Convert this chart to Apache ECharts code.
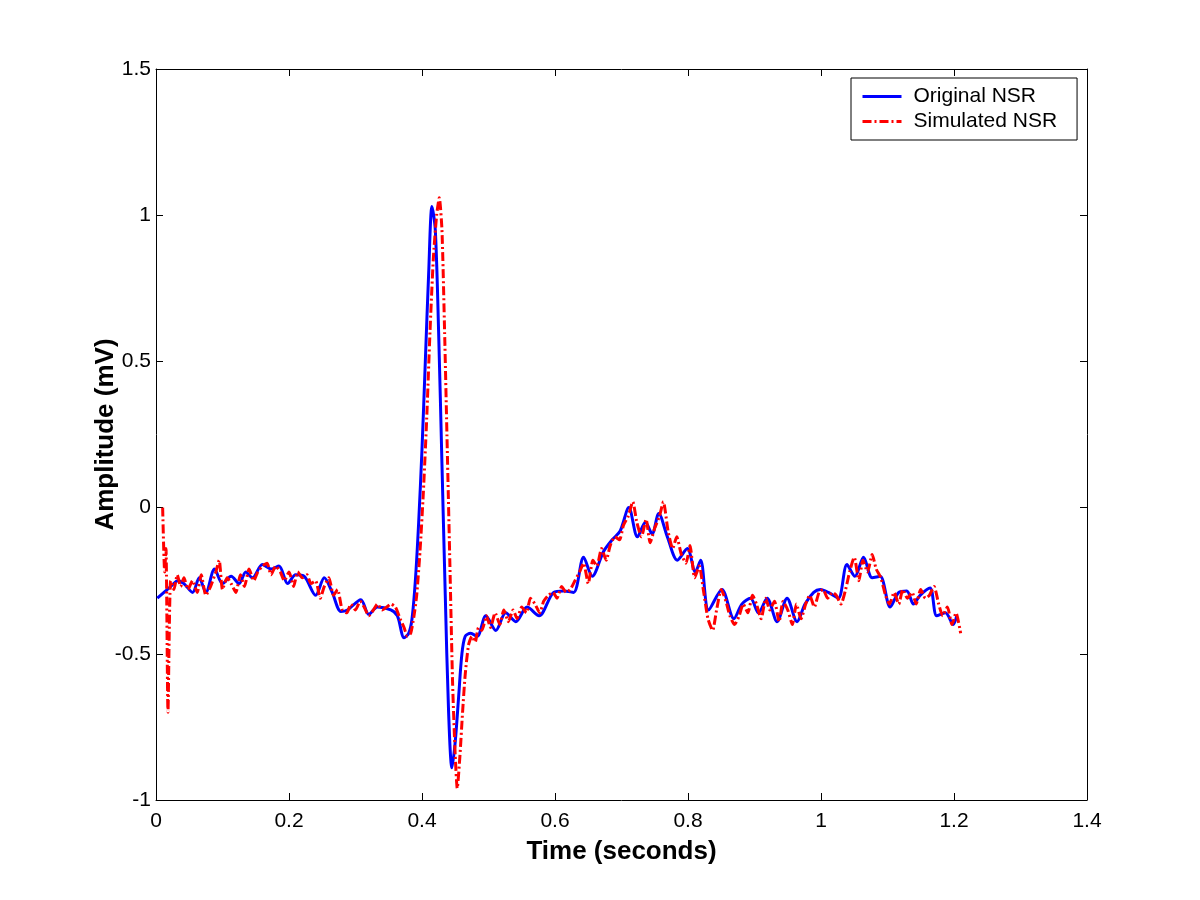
<!DOCTYPE html>
<html>
<head>
<meta charset="utf-8">
<script src="https://cdn.jsdelivr.net/npm/echarts@6/dist/echarts.min.js"></script>
<style>
  html, body { margin: 0; padding: 0; background: #fff; }
  #chart { width: 1200px; height: 900px; }
</style>
</head>
<body>
<div id="chart"></div>
<script>
// original NSR, [time s, amplitude mV]
const originalTime = [0.002, 0.012, 0.022, 0.033, 0.042, 0.055, 0.065, 0.075, 0.088, 0.100, 0.113, 0.125, 0.135, 0.145, 0.160, 0.173, 0.185, 0.198, 0.210, 0.223, 0.240, 0.253, 0.265, 0.278, 0.288, 0.308, 0.320, 0.333, 0.353, 0.363, 0.373, 0.380, 0.385, 0.390, 0.395, 0.400, 0.405, 0.410, 0.415, 0.420, 0.425, 0.430, 0.435, 0.440, 0.445, 0.450, 0.455, 0.460, 0.465, 0.473, 0.483, 0.496, 0.511, 0.526, 0.541, 0.558, 0.576, 0.598, 0.613, 0.628, 0.643, 0.656, 0.673, 0.686, 0.698, 0.711, 0.724, 0.736, 0.746, 0.756, 0.769, 0.784, 0.799, 0.811, 0.819, 0.831, 0.851, 0.869, 0.881, 0.894, 0.906, 0.919, 0.934, 0.949, 0.964, 0.976, 0.989, 0.999, 1.011, 1.026, 1.039, 1.051, 1.064, 1.077, 1.089, 1.104, 1.117, 1.129, 1.139, 1.149, 1.164, 1.174, 1.187, 1.199, 1.204];
const originalValue = [-0.31, -0.29, -0.27, -0.25, -0.26, -0.29, -0.24, -0.29, -0.21, -0.26, -0.235, -0.26, -0.22, -0.24, -0.195, -0.21, -0.20, -0.26, -0.23, -0.235, -0.30, -0.24, -0.29, -0.355, -0.35, -0.315, -0.365, -0.34, -0.35, -0.37, -0.445, -0.43, -0.38, -0.25, -0.05, 0.20, 0.50, 0.80, 1.03, 0.95, 0.60, 0.15, -0.30, -0.70, -0.89, -0.80, -0.65, -0.50, -0.44, -0.43, -0.44, -0.37, -0.42, -0.36, -0.39, -0.34, -0.37, -0.29, -0.285, -0.29, -0.17, -0.235, -0.15, -0.11, -0.08, 0.00, -0.10, -0.05, -0.09, -0.02, -0.10, -0.18, -0.14, -0.22, -0.18, -0.35, -0.28, -0.38, -0.33, -0.31, -0.36, -0.31, -0.39, -0.31, -0.39, -0.33, -0.29, -0.28, -0.29, -0.31, -0.195, -0.235, -0.17, -0.24, -0.235, -0.34, -0.29, -0.285, -0.33, -0.30, -0.275, -0.37, -0.36, -0.40, -0.37];

// simulated NSR
const simulatedTime = [0.010, 0.013, 0.015, 0.018, 0.022, 0.027, 0.032, 0.037, 0.042, 0.048, 0.055, 0.062, 0.068, 0.075, 0.082, 0.090, 0.095, 0.100, 0.107, 0.113, 0.120, 0.127, 0.133, 0.140, 0.147, 0.153, 0.160, 0.167, 0.173, 0.180, 0.187, 0.193, 0.200, 0.207, 0.213, 0.220, 0.227, 0.233, 0.240, 0.247, 0.253, 0.260, 0.267, 0.273, 0.280, 0.287, 0.293, 0.300, 0.307, 0.313, 0.320, 0.327, 0.333, 0.340, 0.347, 0.353, 0.360, 0.367, 0.373, 0.378, 0.383, 0.388, 0.392, 0.397, 0.402, 0.407, 0.412, 0.417, 0.422, 0.426, 0.430, 0.434, 0.438, 0.442, 0.446, 0.450, 0.453, 0.457, 0.461, 0.465, 0.470, 0.475, 0.480, 0.485, 0.490, 0.497, 0.503, 0.510, 0.517, 0.523, 0.530, 0.537, 0.543, 0.550, 0.557, 0.563, 0.570, 0.577, 0.583, 0.590, 0.597, 0.603, 0.610, 0.617, 0.623, 0.630, 0.637, 0.643, 0.650, 0.657, 0.663, 0.670, 0.677, 0.683, 0.690, 0.697, 0.703, 0.710, 0.717, 0.723, 0.730, 0.737, 0.743, 0.750, 0.757, 0.763, 0.770, 0.777, 0.783, 0.790, 0.797, 0.803, 0.810, 0.817, 0.823, 0.830, 0.837, 0.843, 0.850, 0.857, 0.863, 0.870, 0.877, 0.883, 0.890, 0.897, 0.903, 0.910, 0.917, 0.923, 0.930, 0.937, 0.943, 0.950, 0.957, 0.963, 0.970, 0.977, 0.983, 0.990, 0.997, 1.003, 1.010, 1.017, 1.023, 1.030, 1.037, 1.043, 1.050, 1.057, 1.063, 1.070, 1.077, 1.083, 1.090, 1.097, 1.103, 1.110, 1.117, 1.123, 1.130, 1.137, 1.143, 1.150, 1.157, 1.163, 1.170, 1.177, 1.183, 1.190, 1.197, 1.203, 1.210];
const simulatedValue = [0.00, -0.22, -0.14, -0.70, -0.25, -0.28, -0.23, -0.27, -0.24, -0.28, -0.25, -0.29, -0.23, -0.30, -0.27, -0.22, -0.18, -0.28, -0.24, -0.26, -0.29, -0.23, -0.27, -0.21, -0.25, -0.22, -0.20, -0.19, -0.23, -0.20, -0.22, -0.25, -0.22, -0.27, -0.22, -0.24, -0.23, -0.26, -0.25, -0.31, -0.27, -0.24, -0.30, -0.28, -0.35, -0.36, -0.33, -0.35, -0.32, -0.34, -0.37, -0.35, -0.33, -0.35, -0.34, -0.33, -0.34, -0.38, -0.41, -0.44, -0.43, -0.37, -0.30, -0.15, 0.05, 0.30, 0.60, 0.85, 1.00, 1.06, 0.95, 0.60, 0.20, -0.20, -0.60, -0.85, -0.96, -0.85, -0.70, -0.57, -0.47, -0.44, -0.46, -0.41, -0.42, -0.37, -0.41, -0.36, -0.40, -0.35, -0.39, -0.35, -0.38, -0.34, -0.36, -0.31, -0.33, -0.36, -0.32, -0.30, -0.29, -0.31, -0.27, -0.29, -0.28, -0.25, -0.22, -0.19, -0.26, -0.18, -0.20, -0.14, -0.18, -0.13, -0.10, -0.11, -0.06, -0.03, 0.02, -0.05, -0.10, -0.04, -0.12, -0.07, -0.03, 0.02, -0.08, -0.14, -0.10, -0.16, -0.19, -0.13, -0.24, -0.20, -0.28, -0.38, -0.42, -0.35, -0.28, -0.32, -0.37, -0.40, -0.37, -0.33, -0.36, -0.30, -0.33, -0.38, -0.31, -0.35, -0.32, -0.39, -0.32, -0.35, -0.40, -0.33, -0.38, -0.33, -0.30, -0.34, -0.29, -0.28, -0.31, -0.29, -0.30, -0.33, -0.28, -0.22, -0.17, -0.25, -0.18, -0.22, -0.16, -0.21, -0.24, -0.30, -0.33, -0.29, -0.33, -0.28, -0.31, -0.29, -0.33, -0.28, -0.31, -0.30, -0.27, -0.33, -0.37, -0.34, -0.40, -0.36, -0.43];

const seriesNames = ['Original NSR', 'Simulated NSR'];

const zip = (xs, ys) => xs.map((x, i) => [x, ys[i]]);

const chart = echarts.init(document.getElementById('chart'));

const font = 'Liberation Sans, Arial, sans-serif';

// matlab style box: ticks inside on all four sides
const boxAxis = (extra) => Object.assign({
  type: 'value',
  axisLine: { show: true, onZero: false, lineStyle: { color: '#000', width: 1 } },
  axisTick: { show: true, inside: true, length: 7, lineStyle: { color: '#000' } },
  splitLine: { show: false }
}, extra);

const option = {
  backgroundColor: '#fff',
  animation: false,
  textStyle: { fontFamily: font },
  grid: { left: 156, right: 113, top: 69, bottom: 100 },
  legend: {
    orient: 'vertical',
    left: 851,
    top: 78,
    data: seriesNames,
    itemWidth: 39,
    itemHeight: 14,
    itemGap: 4,
    padding: [8, 20, 8, 10],
    backgroundColor: '#fff',
    borderColor: '#000',
    borderWidth: 1,
    borderRadius: 0,
    itemStyle: { opacity: 0 },
    lineStyle: { width: 3 },
    textStyle: { fontFamily: font, fontSize: 21, color: '#000', padding: [0, 0, 0, 7] }
  },
  xAxis: [
    boxAxis({
      min: 0, max: 1.4, interval: 0.2,
      name: 'Time (seconds)',
      nameLocation: 'middle',
      nameGap: 39,
      nameMoveOverlap: false,
      nameTextStyle: { fontFamily: font, fontSize: 26, fontWeight: 'bold', color: '#000' },
      axisLabel: { fontFamily: font, fontSize: 21, color: '#000', margin: 11 }
    }),
    boxAxis({
      min: 0, max: 1.4, interval: 0.2, position: 'top',
      axisLabel: { show: false }
    })
  ],
  yAxis: [
    boxAxis({
      min: -1, max: 1.5, interval: 0.5,
      name: 'Amplitude (mV)',
      nameLocation: 'middle',
      nameGap: 37,
      nameMoveOverlap: false,
      nameRotate: 90,
      nameTextStyle: { fontFamily: font, fontSize: 26, fontWeight: 'bold', color: '#000' },
      axisLabel: { fontFamily: font, fontSize: 21, color: '#000', margin: 5 }
    }),
    boxAxis({
      min: -1, max: 1.5, interval: 0.5, position: 'right',
      axisLabel: { show: false }
    })
  ],
  series: [
    {
      name: seriesNames[0],
      type: 'line',
      data: zip(originalTime, originalValue),
      symbol: 'none',
      showSymbol: false,
      smooth: 0.3,
      z: 3,
      lineStyle: { color: '#0000ff', width: 3 },
      itemStyle: { color: '#0000ff' }
    },
    {
      name: seriesNames[1],
      type: 'line',
      data: zip(simulatedTime, simulatedValue),
      symbol: 'none',
      showSymbol: false,
      smooth: 0.2,
      z: 4,
      lineStyle: { color: '#ff0000', width: 3, type: [9, 3, 2, 3] },
      itemStyle: { color: '#ff0000' }
    }
  ]
};

chart.setOption(option);
</script>
</body>
</html>
